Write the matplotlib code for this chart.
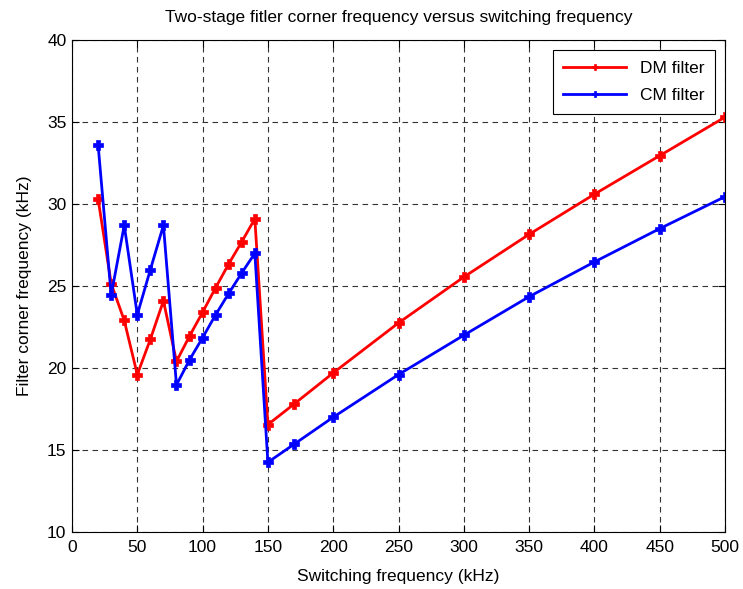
import numpy as np
import matplotlib.pyplot as plt

# switching frequencies (kHz)
fsw = [20, 30, 40, 50, 60, 70, 80, 90, 100, 110, 120, 130, 140,
       150, 170, 200, 250, 300, 350, 400, 450, 500]

# corner frequencies (kHz)
dm_corner = [30.3, 25.15, 22.9, 19.6, 21.75, 24.1, 20.4, 21.95, 23.4, 24.9, 26.35, 27.7, 29.1,
             16.55, 17.8, 19.7, 22.75, 25.55, 28.15, 30.6, 32.95, 35.3]
cm_corner = [33.6, 24.45, 28.7, 23.25, 26.0, 28.7, 18.97, 20.5, 21.85, 23.25, 24.55, 25.8, 27.0,
             14.25, 15.35, 17.0, 19.6, 22.0, 24.35, 26.47, 28.5, 30.45]

plt.rcParams['font.family'] = 'Liberation Sans'
fs = 12.5

fig = plt.figure(figsize=(7.43, 5.89), dpi=100)
ax = fig.add_axes([0.0969, 0.0968, 0.8789, 0.8352])

ax.plot(fsw, dm_corner, '-P', color='red', lw=2, ms=7, mew=0.5, label='DM filter')
ax.plot(fsw, cm_corner, '-P', color='blue', lw=2, ms=7, mew=0.5, label='CM filter')

ax.set_xlim(0, 500)
ax.set_ylim(10, 40)
ax.set_xticks(np.arange(0, 501, 50))
ax.set_yticks(np.arange(10, 41, 5))
ax.tick_params(direction='in', top=True, right=True, labelsize=fs, length=5)
ax.tick_params(axis='x', pad=6)
ax.tick_params(axis='y', pad=4)
ax.grid(True, color='0.2', ls=(0, (5, 4)), lw=0.8)

ax.set_xlabel('Switching frequency (kHz)', fontsize=fs, labelpad=10)
ax.set_ylabel('Filter corner frequency (kHz)', fontsize=fs, labelpad=11)
ax.set_title('Two-stage fitler corner frequency versus switching frequency',
             fontsize=fs, pad=13)

leg = ax.legend(loc='upper right', fontsize=fs, fancybox=False, framealpha=1,
                edgecolor='black', markerscale=0.7, handlelength=3.6,
                labelspacing=0.7, borderaxespad=0.6, borderpad=0.6)
leg.get_frame().set_linewidth(0.8)

fig.savefig('out.png', dpi=100)
